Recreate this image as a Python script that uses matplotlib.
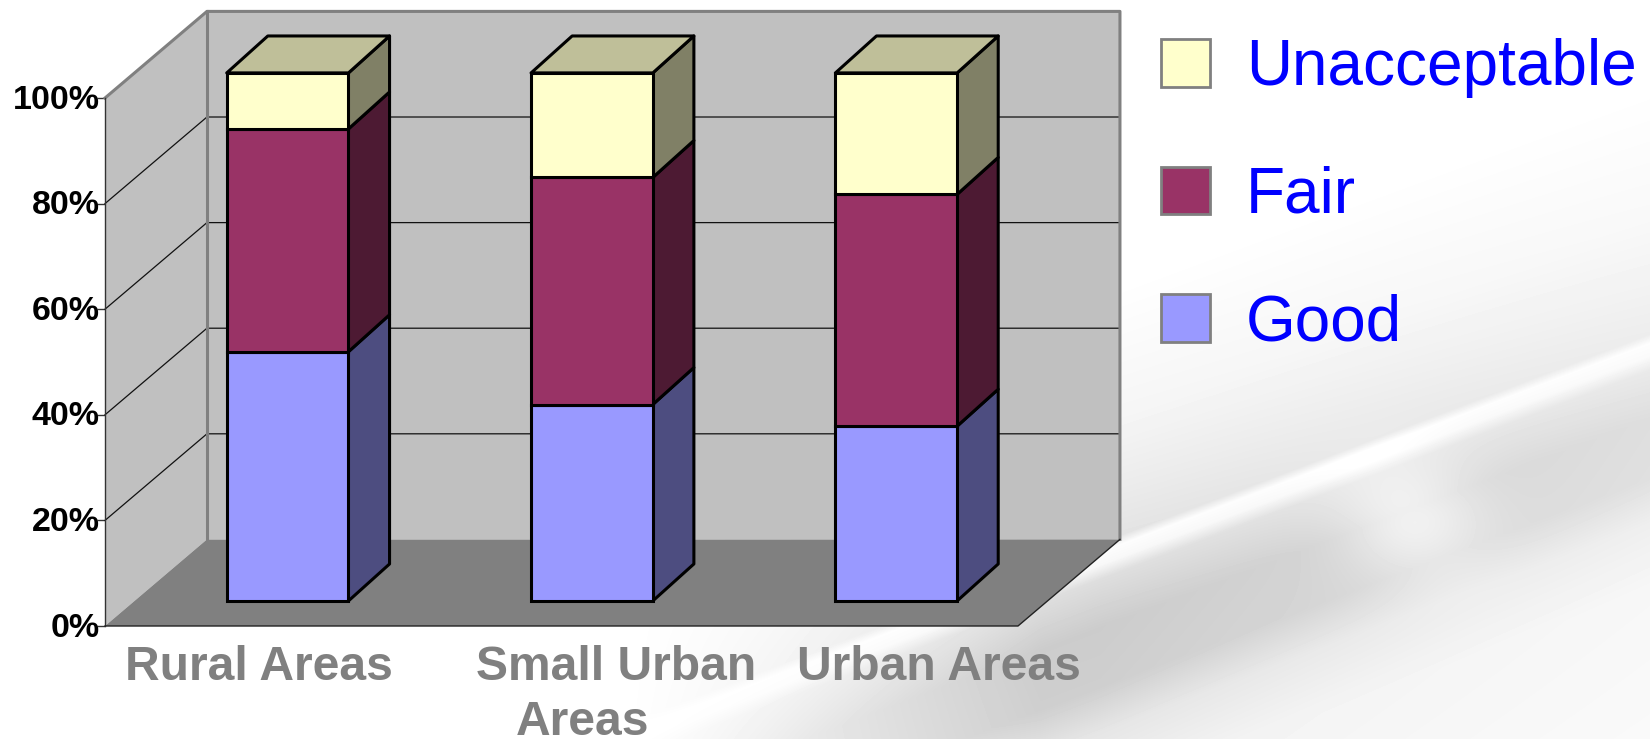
"""Stacked 3D-look column chart on a pale slide background."""
import matplotlib
matplotlib.use("Agg")
import matplotlib.pyplot as plt
import numpy as np
from matplotlib.patches import Patch, Polygon
from matplotlib.transforms import ScaledTranslation

CATEGORIES = ["Rural Areas", "Small Urban Areas", "Urban Areas"]
GOOD = [47.2, 37.2, 33.1]
FAIR = [42.2, 43.0, 43.9]
UNACCEPTABLE = [10.6, 19.8, 23.0]
Y_TICKS = [0, 20, 40, 60, 80, 100]
SERIES_NAMES = ["Good", "Fair", "Unacceptable"]

# label lines as they break in the slide: text, x centre, line number
LABEL_LINES = [("Rural Areas", 0.505, 0), ("Small Urban", 1.68, 0), ("Areas", 1.57, 1),
               ("Urban Areas", 2.74, 0)]

# front, side and top shades per series
FRONT = ["#9999FF", "#993366", "#FFFFCC"]
SIDE = ["#4D4D80", "#4D1A33", "#808066"]
TOP = "#BFBF99"

# depth of the box and bars, in data units
WALL_DX, WALL_DY = 0.335, 16.4
BAR_DX, BAR_DY = 0.135, 7.0
BAR_SHIFT_X, BAR_SHIFT_Y = 0.1, 4.75
BAR_WIDTH = 0.4

W, H = 1650, 739

plt.rcParams["font.family"] = ["Liberation Sans", "DejaVu Sans"]
fig = plt.figure(figsize=(W / 100, H / 100), dpi=100)


# ── faint pen photo behind everything ────────────────────────────────────────
def draw_background():
    bg = fig.add_axes([0, 0, 1, 1], zorder=0)
    yy, xx = np.mgrid[0:H, 0:W]
    d = yy - (549 - 0.38 * (xx - 1120))
    shade = np.interp(d, [-270, -130, -60, -14, -5, 8, 22, 70, 130, 175, 240, 420],
                      [1.0, 0.96, 0.92, 0.89, 0.99, 0.97, 0.87, 0.80, 0.81, 0.90, 0.95, 0.97])
    fade = np.clip((xx - 620) / 420, 0, 1) * np.interp(xx, [1100, 1650], [1.0, 0.65])
    img = 1 - (1 - shade) * fade
    # pen collar
    img += 0.10 * np.exp(-((xx - 1410) ** 2 / 70.0 ** 2 + (yy - 520) ** 2 / 55.0 ** 2))
    bg.imshow(np.clip(img, 0, 1), cmap="gray", vmin=0, vmax=1, aspect="auto",
              interpolation="bilinear")
    bg.axis("off")


draw_background()

ax = fig.add_axes([105 / W, 1 - 626 / H, 913 / W, 528 / H], zorder=1)
ax.set_xlim(0, 3)
ax.set_ylim(0, 100)
ax.patch.set_visible(False)
for spine in ax.spines.values():
    spine.set_visible(False)
ax.set_xticks([])
ax.set_yticks(Y_TICKS)
ax.set_yticklabels([f"{t}%" for t in Y_TICKS], fontsize=24.5, fontweight="bold", color="black")
ax.tick_params(axis="y", length=6, width=1.0, color="#333333", pad=-2)
nudge = ScaledTranslation(0, 1 / 72, fig.dpi_scale_trans)
for lab in ax.get_yticklabels():
    lab.set_transform(lab.get_transform() + nudge)


def poly(points, face, edge="none", lw=0.0, z=2):
    ax.add_patch(Polygon(points, closed=True, facecolor=face, edgecolor=edge,
                         linewidth=lw, zorder=z, clip_on=False, joinstyle="round"))


# walls and floor
poly([(0, 0), (WALL_DX, WALL_DY), (WALL_DX, 100 + WALL_DY), (0, 100)], "#C0C0C0")
poly([(WALL_DX, WALL_DY), (3 + WALL_DX, WALL_DY), (3 + WALL_DX, 100 + WALL_DY),
      (WALL_DX, 100 + WALL_DY)], "#C0C0C0")
poly([(0, 0), (3, 0), (3 + WALL_DX, WALL_DY), (WALL_DX, WALL_DY)], "#808080")

for t in Y_TICKS[1:-1]:
    ax.plot([0, WALL_DX, 3 + WALL_DX], [t, t + WALL_DY, t + WALL_DY], color="#111111",
            lw=0.9, zorder=3, clip_on=False)

# wall outlines
ax.plot([0, WALL_DX, 3 + WALL_DX, 3 + WALL_DX], [100, 100 + WALL_DY, 100 + WALL_DY, WALL_DY],
        color="#808080", lw=2.2, zorder=3, clip_on=False)
ax.plot([WALL_DX, WALL_DX], [WALL_DY, 100 + WALL_DY], color="#808080", lw=2.2, zorder=3,
        clip_on=False)
ax.plot([0, 0], [0, 100], color="#333333", lw=1.0, zorder=4, clip_on=False)
ax.plot([0, 3, 3 + WALL_DX], [0, 0, WALL_DY], color="#222222", lw=1.0, zorder=4, clip_on=False)

# stacked columns
x_pos = np.arange(len(CATEGORIES)) + 0.5 + BAR_SHIFT_X
bottom = np.zeros(len(CATEGORIES))
for k, values in enumerate([GOOD, FAIR, UNACCEPTABLE]):
    values = np.array(values, dtype=float)
    ax.bar(x_pos, values, BAR_WIDTH, bottom=bottom + BAR_SHIFT_Y, color=FRONT[k], edgecolor="black",
           linewidth=2.2, zorder=6, clip_on=False)
    for x, b, v in zip(x_pos, bottom + BAR_SHIFT_Y, values):
        r = x + BAR_WIDTH / 2
        poly([(r, b), (r + BAR_DX, b + BAR_DY), (r + BAR_DX, b + v + BAR_DY), (r, b + v)],
             SIDE[k], "black", 2.2, z=5)
        if k == 2:
            l = x - BAR_WIDTH / 2
            poly([(l, b + v), (r, b + v), (r + BAR_DX, b + v + BAR_DY), (l + BAR_DX, b + v + BAR_DY)],
                 TOP, "black", 2.2, z=5)
    bottom += values

for name, x, line in LABEL_LINES:
    ax.text(x, -3.6 - 10.4 * line, name, ha="center", va="top", fontsize=34.6, fontweight="bold",
            color="#808080", clip_on=False, zorder=7)

# legend, top entry first
handles = [Patch(facecolor=FRONT[k], edgecolor="#808080", linewidth=2.0, label=SERIES_NAMES[k])
           for k in (2, 1, 0)]
fig.legend(handles=handles, loc="upper left", bbox_to_anchor=(1161 / W, 1 - 38 / H),
           bbox_transform=fig.transFigure, frameon=False, fontsize=46, labelcolor="#0000FF",
           handlelength=0.77, handleheight=0.77, handletextpad=0.56, labelspacing=1.06,
           borderpad=0, borderaxespad=0)

fig.savefig("out.png", dpi=100)
plt.close(fig)
